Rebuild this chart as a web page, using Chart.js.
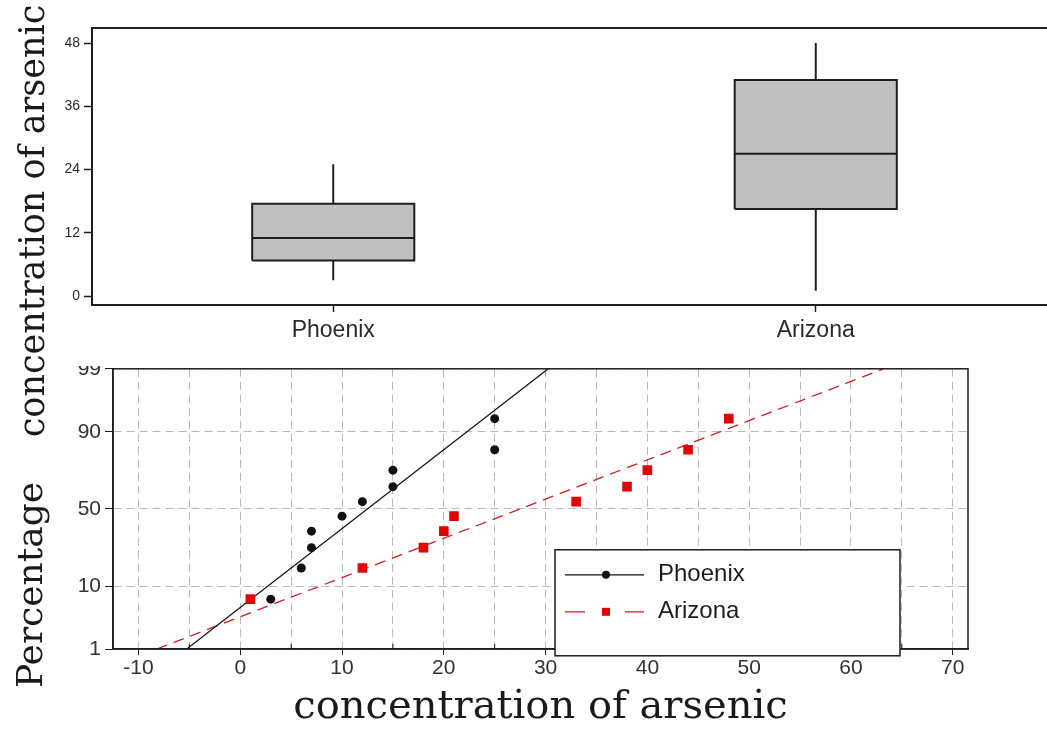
<!DOCTYPE html>
<html>
<head>
<meta charset="utf-8">
<script src="https://cdn.jsdelivr.net/npm/chart.js@4/dist/chart.umd.min.js"></script>
<style>
  html, body { margin: 0; padding: 0; background: #fff; }
  body { width: 1047px; height: 729px; overflow: hidden; position: relative; }
  #boxWrap { position: absolute; left: 0; top: 0; width: 1060px; height: 366px; background: #fff; z-index: 1; overflow: hidden; }
  #probWrap { position: absolute; left: 0; top: 362px; width: 1047px; height: 367px; z-index: 0; }
  .ytitle {
    position: absolute; font-family: "DejaVu Serif", serif; color: #1a1a1a;
    white-space: nowrap; line-height: 1; z-index: 2;
    transform: translate(-50%, -50%) rotate(-90deg);
  }
</style>
</head>
<body>
<div id="boxWrap"><canvas id="boxChart" width="1060" height="364"></canvas></div>
<div id="probWrap"><canvas id="probChart" width="1047" height="367"></canvas></div>
<div class="ytitle" style="left:32px; top:221px; font-size:35px;">concentration of arsenic</div>
<div class="ytitle" style="left:30px; top:585px; font-size:36px;">Percentage</div>

<script>
// Arsenic concentration samples for the two groups
const categories = ['Phoenix', 'Arizona'];
const phoenix = [3, 6, 7, 7, 10, 12, 15, 15, 25, 25];
const arizona = [1, 12, 18, 20, 21, 33, 38, 40, 44, 48];
// Plotting positions (percent) of the sorted samples on the probability plot
const percentiles = [6.7, 16.3, 26.0, 35.6, 45.2, 54.8, 64.4, 74.0, 83.7, 93.3];

// Tick labels
const boxTicks = [0, 12, 24, 36, 48];
const concTicks = [-10, 0, 10, 20, 30, 40, 50, 60, 70];
const pctTicks = [1, 10, 50, 90, 99];

Chart.defaults.font.family = '"Liberation Sans", Arial, sans-serif';
Chart.defaults.color = '#2a2a2a';
Chart.defaults.animation = false;

// ---------- helpers ----------
function quantile(sorted, p) {
  const n = sorted.length;
  const pos = p * (n + 1);
  const lo = Math.floor(pos);
  const f = pos - lo;
  if (lo < 1) return sorted[0];
  if (lo >= n) return sorted[n - 1];
  return sorted[lo - 1] + f * (sorted[lo] - sorted[lo - 1]);
}
function boxStats(values) {
  const s = values.slice().sort((a, b) => a - b);
  const q1 = quantile(s, 0.25), med = quantile(s, 0.5), q3 = quantile(s, 0.75);
  const iqr = q3 - q1;
  const lowFence = q1 - 1.5 * iqr, highFence = q3 + 1.5 * iqr;
  const lo = Math.min(...s.filter(v => v >= lowFence));
  const hi = Math.max(...s.filter(v => v <= highFence));
  return { q1, med, q3, lo, hi };
}
function mean(a) { return a.reduce((s, v) => s + v, 0) / a.length; }
function stdev(a) {
  const m = mean(a);
  return Math.sqrt(a.reduce((s, v) => s + (v - m) * (v - m), 0) / (a.length - 1));
}
// Inverse of the standard normal CDF (Acklam)
function probit(p) {
  const a = [-3.969683028665376e+01, 2.209460984245205e+02, -2.759285104469687e+02, 1.383577518672690e+02, -3.066479806614716e+01, 2.506628277459239e+00];
  const b = [-5.447609879822406e+01, 1.615858368580409e+02, -1.556989798598866e+02, 6.680131188771972e+01, -1.328068155288572e+01];
  const c = [-7.784894002430293e-03, -3.223964580411365e-01, -2.400758277161838e+00, -2.549732539343734e+00, 4.374664141464968e+00, 2.938163982698783e+00];
  const d = [7.784695709041462e-03, 3.224671290700398e-01, 2.445134137142996e+00, 3.754408661907416e+00];
  const pl = 0.02425;
  let q, r;
  if (p < pl) {
    q = Math.sqrt(-2 * Math.log(p));
    return (((((c[0]*q+c[1])*q+c[2])*q+c[3])*q+c[4])*q+c[5]) / ((((d[0]*q+d[1])*q+d[2])*q+d[3])*q+1);
  }
  if (p <= 1 - pl) {
    q = p - 0.5; r = q * q;
    return (((((a[0]*r+a[1])*r+a[2])*r+a[3])*r+a[4])*r+a[5])*q / (((((b[0]*r+b[1])*r+b[2])*r+b[3])*r+b[4])*r+1);
  }
  q = Math.sqrt(-2 * Math.log(1 - p));
  return -(((((c[0]*q+c[1])*q+c[2])*q+c[3])*q+c[4])*q+c[5]) / ((((d[0]*q+d[1])*q+d[2])*q+d[3])*q+1);
}

// Frame around the plotting area
const framePlugin = {
  id: 'frame',
  afterDraw(chart, args, opts) {
    const { ctx, chartArea: a } = chart;
    ctx.save();
    ctx.strokeStyle = opts.color || '#1e1e1e';
    ctx.lineWidth = opts.width || 1.5;
    ctx.setLineDash([]);
    ctx.strokeRect(a.left, a.top, a.right - a.left, a.bottom - a.top);
    // short inward ticks at the half-decade grid positions
    if (opts.minor) {
      const sx = chart.scales.x;
      ctx.lineWidth = 1;
      sx.ticks.forEach(t => {
        if (!concTicks.includes(t.value)) {
          const px = sx.getPixelForValue(t.value);
          ctx.beginPath(); ctx.moveTo(px, a.bottom); ctx.lineTo(px, a.bottom - 5); ctx.stroke();
        }
      });
    }
    ctx.restore();
  }
};

// ---------- box plot ----------
const BOX_HALF = 0.168;
const boxDatasets = [];
[phoenix, arizona].forEach((values, i) => {
  const st = boxStats(values);
  const c = i + 1;
  boxDatasets.push({
    label: categories[i] + ' box',
    data: [{x: c - BOX_HALF, y: st.q1}, {x: c + BOX_HALF, y: st.q1}, {x: c + BOX_HALF, y: st.q3},
           {x: c - BOX_HALF, y: st.q3}, {x: c - BOX_HALF, y: st.q1}],
    showLine: true, fill: 'shape', backgroundColor: '#c0c0c0',
    borderColor: '#1e1e1e', borderWidth: 2, pointRadius: 0, order: 3
  });
  boxDatasets.push({
    label: categories[i] + ' median',
    data: [{x: c - BOX_HALF, y: st.med}, {x: c + BOX_HALF, y: st.med}],
    showLine: true, borderColor: '#1e1e1e', borderWidth: 2, pointRadius: 0, order: 1
  });
  boxDatasets.push({
    label: categories[i] + ' upper whisker',
    data: [{x: c, y: st.q3}, {x: c, y: st.hi}],
    showLine: true, borderColor: '#1e1e1e', borderWidth: 2, pointRadius: 0, order: 1
  });
  boxDatasets.push({
    label: categories[i] + ' lower whisker',
    data: [{x: c, y: st.lo}, {x: c, y: st.q1}],
    showLine: true, borderColor: '#1e1e1e', borderWidth: 2, pointRadius: 0, order: 1
  });
});

new Chart(document.getElementById('boxChart'), {
  type: 'scatter',
  data: { datasets: boxDatasets },
  options: {
    responsive: false,
    layout: { padding: { top: 28, right: 3, bottom: 0, left: 0 } },
    plugins: { legend: { display: false }, tooltip: { enabled: false }, frame: { width: 2 } },
    scales: {
      x: {
        type: 'linear', min: 0.5, max: 2.5,
        afterBuildTicks: s => { s.ticks = categories.map((c, i) => ({ value: i + 1 })); },
        afterFit: s => { s.height = 59; s.paddingLeft = 0; s.paddingRight = 0; },
        ticks: { callback: v => categories[v - 1], font: { size: 23 }, padding: 5, autoSkip: false, maxRotation: 0 },
        grid: { drawOnChartArea: false, tickLength: 7, tickColor: '#1e1e1e', tickWidth: 1.5 },
        border: { display: true, color: '#1e1e1e', width: 2 }
      },
      y: {
        type: 'linear', min: -1.7, max: 50.85,
        afterBuildTicks: s => { s.ticks = boxTicks.map(v => ({ value: v })); },
        afterFit: s => { s.width = 92; s.paddingTop = 0; s.paddingBottom = 0; },
        ticks: { font: { size: 14 }, padding: 4 },
        grid: { drawOnChartArea: false, tickLength: 8, tickColor: '#1e1e1e', tickWidth: 1.5 },
        border: { display: true, color: '#1e1e1e', width: 2 }
      }
    }
  },
  plugins: [framePlugin]
});

// ---------- normal probability plot ----------
const zLo = probit(pctTicks[0] / 100);
const zHi = probit(pctTicks[pctTicks.length - 1] / 100);
const toPoints = values => values.slice().sort((a, b) => a - b)
  .map((v, i) => ({ x: v, y: probit(percentiles[i] / 100) }));
const fitLine = values => {
  const m = mean(values), sd = stdev(values);
  return [{ x: m + zLo * sd, y: zLo }, { x: m + zHi * sd, y: zHi }];
};

const PHX_COLOR = '#111111';
const AZ_LINE = '#cc1f1f';
const AZ_MARK = '#e30000';

// Legend box drawn inside the plot
const legendBoxPlugin = {
  id: 'legendBox',
  afterDraw(chart) {
    const { ctx, chartArea: a } = chart;
    const x0 = a.left + 442, y0 = a.top + 181, w = 345, h = 106;
    ctx.save();
    ctx.fillStyle = '#ffffff';
    ctx.fillRect(x0, y0, w, h);
    ctx.strokeStyle = '#1e1e1e';
    ctx.lineWidth = 1.5;
    ctx.strokeRect(x0, y0, w, h);

    const rows = [
      { label: categories[0], y: y0 + 25, color: PHX_COLOR, dash: [], style: 'circle', mark: PHX_COLOR },
      { label: categories[1], y: y0 + 62, color: AZ_LINE, dash: [20, 40], style: 'rect', mark: AZ_MARK }
    ];
    rows.forEach(r => {
      ctx.strokeStyle = r.color;
      ctx.lineWidth = 1.2;
      ctx.setLineDash(r.dash);
      ctx.beginPath();
      ctx.moveTo(x0 + 10, r.y);
      ctx.lineTo(x0 + 89, r.y);
      ctx.stroke();
      ctx.setLineDash([]);
      ctx.fillStyle = r.mark;
      if (r.style === 'circle') {
        ctx.beginPath(); ctx.arc(x0 + 51, r.y, 4, 0, Math.PI * 2); ctx.fill();
      } else {
        ctx.fillRect(x0 + 47, r.y - 4, 8, 8);
      }
      ctx.fillStyle = '#1e1e1e';
      ctx.font = '24px "Liberation Sans", Arial, sans-serif';
      ctx.textBaseline = 'middle';
      ctx.textAlign = 'left';
      ctx.fillText(r.label, x0 + 103, r.y);
    });
    ctx.restore();
  }
};

const gridValues = [];
for (let v = concTicks[0]; v <= concTicks[concTicks.length - 1]; v += 5) gridValues.push(v);

new Chart(document.getElementById('probChart'), {
  type: 'scatter',
  data: {
    datasets: [
      { label: categories[0], data: toPoints(phoenix), pointStyle: 'circle', pointRadius: 4.5,
        backgroundColor: PHX_COLOR, borderColor: PHX_COLOR, borderWidth: 0, order: 1 },
      { label: categories[1], data: toPoints(arizona), pointStyle: 'rect', pointRadius: 6.8,
        backgroundColor: AZ_MARK, borderColor: AZ_MARK, borderWidth: 0, order: 1 },
      { label: categories[0] + ' fit', data: fitLine(phoenix), showLine: true, pointRadius: 0,
        borderColor: PHX_COLOR, borderWidth: 1.2, order: 2 },
      { label: categories[1] + ' fit', data: fitLine(arizona), showLine: true, pointRadius: 0,
        borderColor: AZ_LINE, borderWidth: 1.3, borderDash: [11, 7], order: 2 }
    ]
  },
  options: {
    responsive: false,
    layout: { padding: { top: 0, right: 79, bottom: 0, left: 0 } },
    plugins: { legend: { display: false }, tooltip: { enabled: false }, frame: { width: 1.5, minor: true } },
    scales: {
      x: {
        type: 'linear', min: -12.5, max: 71.5,
        afterBuildTicks: s => { s.ticks = gridValues.map(v => ({ value: v })); },
        afterFit: s => { s.height = 80; s.paddingLeft = 0; s.paddingRight = 0; },
        ticks: {
          autoSkip: false, maxRotation: 0, font: { size: 21 }, padding: 1, color: '#333',
          callback: v => concTicks.includes(v) ? String(v) : ''
        },
        grid: {
          color: '#b8b8b8', lineWidth: 1, tickLength: 6, tickWidth: 1,
          tickColor: c => (c.tick && concTicks.includes(c.tick.value)) ? '#1e1e1e' : 'rgba(0,0,0,0)'
        },
        border: { display: true, color: '#1e1e1e', width: 1.5, dash: [8, 5] },
        title: {
          display: true, text: 'concentration of arsenic', color: '#1a1a1a',
          font: { family: '"DejaVu Serif", serif', size: 40, lineHeight: 1 },
          padding: { top: 0, bottom: 1 }
        }
      },
      y: {
        type: 'linear', min: zLo, max: zHi,
        afterBuildTicks: s => { s.ticks = pctTicks.map(p => ({ value: probit(p / 100) })); },
        afterFit: s => { s.width = 113; s.paddingTop = 0; s.paddingBottom = 0; },
        ticks: {
          font: { size: 21 }, padding: 4, color: '#333',
          callback: (v, i) => String(pctTicks[i])
        },
        grid: { color: '#b8b8b8', lineWidth: 1, tickLength: 8, tickColor: '#1e1e1e', tickWidth: 1 },
        border: { display: true, color: '#1e1e1e', width: 1.5, dash: [8, 5] }
      }
    }
  },
  plugins: [framePlugin, legendBoxPlugin]
});
</script>
</body>
</html>
